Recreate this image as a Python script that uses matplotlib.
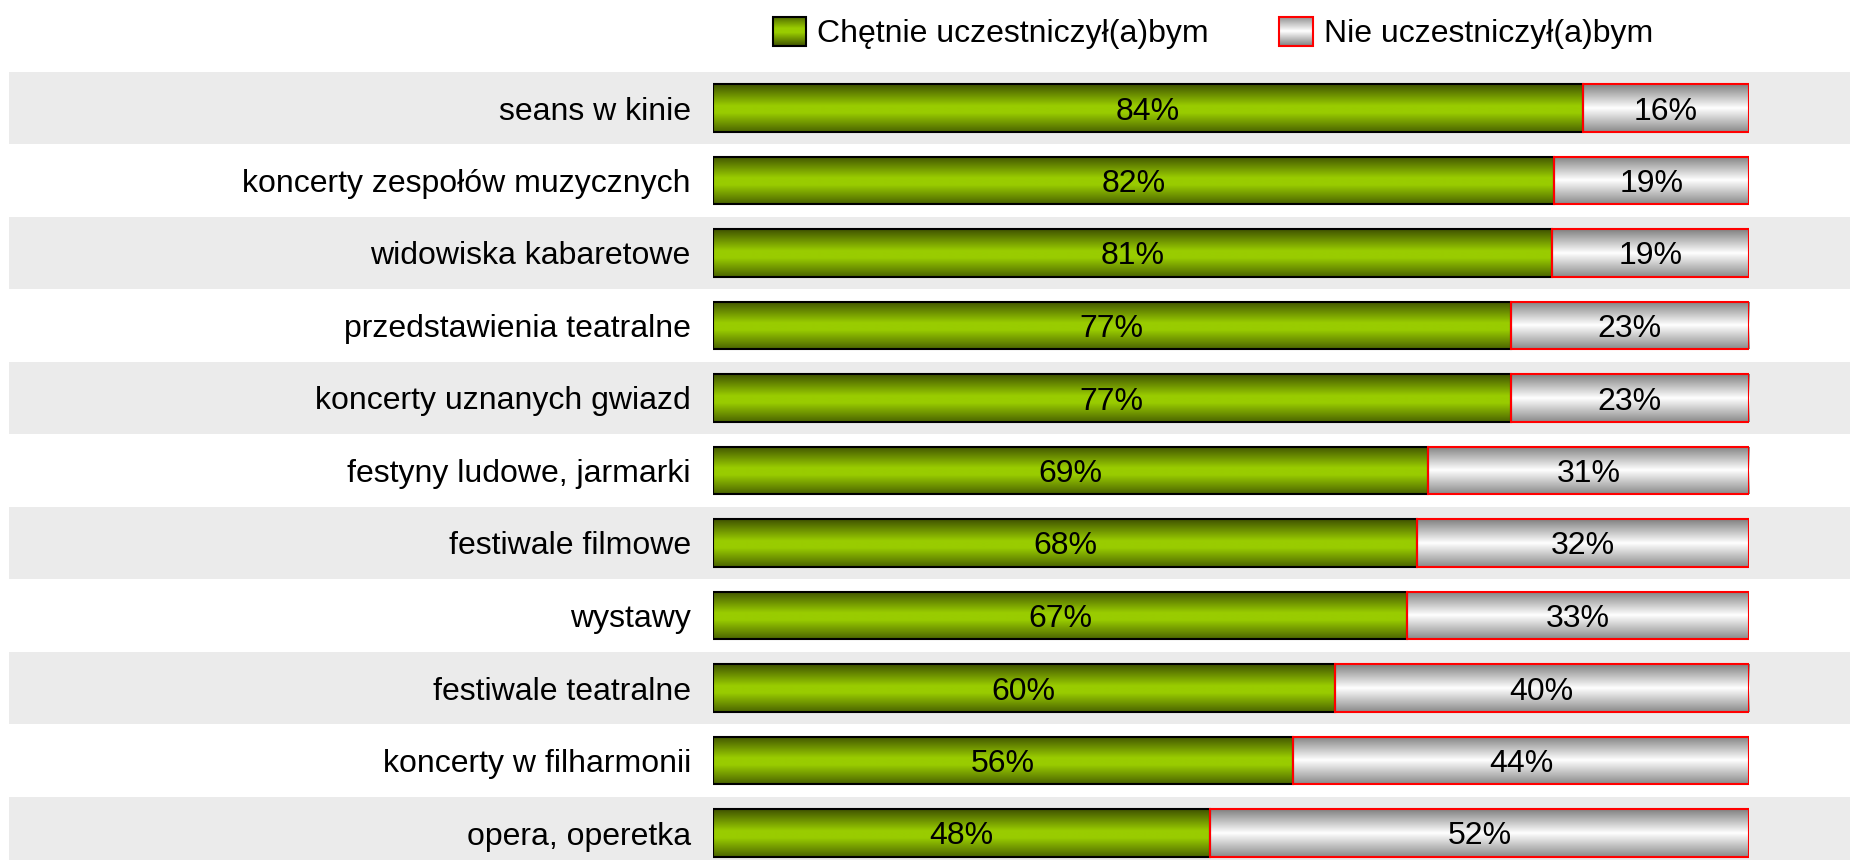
import numpy as np
import matplotlib.pyplot as plt
from matplotlib.colors import LinearSegmentedColormap
from matplotlib.patches import Rectangle
from matplotlib.legend_handler import HandlerBase
from matplotlib.image import BboxImage
from matplotlib.transforms import Bbox, TransformedBbox

plt.rcParams['font.family'] = ['Liberation Sans', 'DejaVu Sans']

# data
categories = ['seans w kinie', 'koncerty zespołów muzycznych', 'widowiska kabaretowe',
              'przedstawienia teatralne', 'koncerty uznanych gwiazd',
              'festyny ludowe, jarmarki', 'festiwale filmowe', 'wystawy',
              'festiwale teatralne', 'koncerty w filharmonii', 'opera, operetka']
yes_pct = [84, 82, 81, 77, 77, 69, 68, 67, 60, 56, 48]
no_pct = [16, 19, 19, 23, 23, 31, 32, 33, 40, 44, 52]
series_names = ['Chętnie uczestniczył(a)bym', 'Nie uczestniczył(a)bym']

# gradients (vertical: dark edges, light middle)
green_cmap = LinearSegmentedColormap.from_list(
    'g', [(0, '#3f5200'), (0.45, '#99cc00'), (0.6, '#99cc00'), (1, '#4b6400')])
gray_cmap = LinearSegmentedColormap.from_list(
    'w', [(0, '#808080'), (0.5, '#ffffff'), (1, '#8a8a8a')])
grad = np.linspace(0, 1, 256).reshape(-1, 1)

BAND = '#ebebeb'
FS = 23

fig = plt.figure(figsize=(18.5, 8.6), dpi=100)
W, H = 1850, 860
ax = fig.add_axes([713 / W, 0, 1036 / W, (H - 71.75) / H])

n = len(categories)
y = np.arange(n)
tot = np.array(yes_pct) + np.array(no_pct)
yes_w = np.array(yes_pct) / tot * 100
no_w = np.array(no_pct) / tot * 100
bh = 0.65

# alternating background bands
for i in range(0, n, 2):
    ax.axhspan(i - 0.5, i + 0.5, xmin=(9 - 713) / 1036, xmax=(W - 713) / 1036,
               color=BAND, zorder=0, clip_on=False, lw=0)


def gradient_bars(left, width, cmap, edge):
    bars = ax.barh(y, width, left=left, height=bh, facecolor='none',
                   edgecolor=edge, linewidth=1.5, zorder=3)
    for b in bars:
        x0, y0, w, h = b.get_x(), b.get_y(), b.get_width(), b.get_height()
        im = ax.imshow(grad, cmap=cmap, aspect='auto', interpolation='bilinear',
                       extent=(x0, x0 + w, y0 + h, y0), zorder=2)
        im.set_clip_path(b)
    return bars


bars_yes = gradient_bars(0, yes_w, green_cmap, '#000000')
bars_no = gradient_bars(yes_w, no_w, gray_cmap, '#ff0000')

for i in range(n):
    ax.text(yes_w[i] / 2, y[i], f'{yes_pct[i]}%', ha='center', va='center_baseline',
            fontsize=FS, zorder=4)
    ax.text(yes_w[i] + no_w[i] / 2, y[i], f'{no_pct[i]}%', ha='center',
            va='center_baseline', fontsize=FS, zorder=4)

ax.set_xlim(0, 100)
ax.set_ylim(n - 1 + (H - 833) / 72.5, -0.5)
ax.set_yticks(y)
ax.set_yticklabels(categories, fontsize=FS)
ax.tick_params(axis='y', length=0, pad=16)
ax.set_xticks([])
for s in ax.spines.values():
    s.set_visible(False)
ax.patch.set_visible(False)


class GradientHandler(HandlerBase):
    def __init__(self, cmap, edge):
        super().__init__()
        self.cmap = cmap
        self.edge = edge

    def create_artists(self, legend, orig_handle, xdescent, ydescent, width,
                       height, fontsize, trans):
        bb = TransformedBbox(Bbox.from_bounds(-xdescent, -ydescent, width, height), trans)
        img = BboxImage(bb, cmap=self.cmap, interpolation='bilinear')
        img.set_data(grad[::-1])
        rect = Rectangle((-xdescent, -ydescent), width, height, facecolor='none',
                         edgecolor=self.edge, lw=1.5, transform=trans)
        return [img, rect]


h1 = Rectangle((0, 0), 1, 1)
h2 = Rectangle((0, 0), 1, 1)
fig.legend([h1, h2], series_names, loc='center', bbox_to_anchor=(1213 / W, 1 - 33 / H),
           ncol=2, frameon=False, fontsize=FS, handlelength=1.05, handleheight=1.05,
           handletextpad=0.35, columnspacing=2.2,
           handler_map={h1: GradientHandler(green_cmap, '#000000'),
                        h2: GradientHandler(gray_cmap, '#ff0000')})

fig.savefig('out.png', dpi=100)
